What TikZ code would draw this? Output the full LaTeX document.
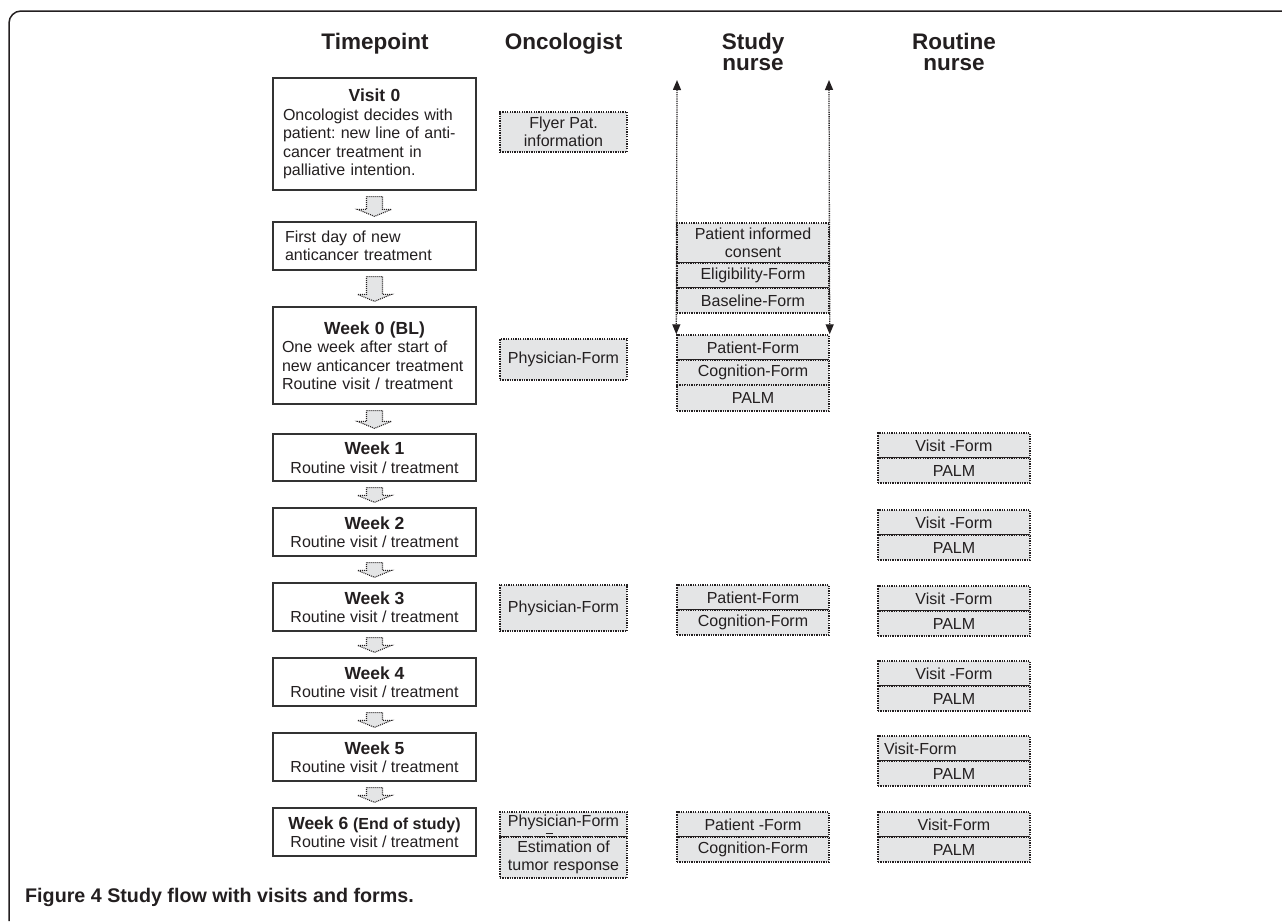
\documentclass[tikz,border=0pt]{standalone}
\usepackage{fontspec}
\setmainfont{Liberation Sans}
\usetikzlibrary{calc,arrows.meta}
\frenchspacing
\hyphenpenalty=10000
\exhyphenpenalty=10000
\definecolor{ink}{HTML}{231F20}
\definecolor{boxline}{HTML}{333333}
\definecolor{formfill}{HTML}{E4E5E6}
\tikzset{
  tpbox/.style={draw=boxline, line width=1.3pt, fill=white, minimum width=203pt, text=ink,
    inner xsep=0pt, inner ysep=2pt, font=\fontsize{16}{18.5}\selectfont},
  form/.style={draw=ink, line width=1.4pt, dash pattern=on 1.3pt off 1.1pt, fill=formfill,
    text=ink, inner sep=0pt, align=center, font=\fontsize{16}{18}\selectfont},
  oncform/.style={form, minimum width=127pt},
  nurseform/.style={form, minimum width=152pt},
  header/.style={text=ink, font=\fontsize{22.5}{21}\selectfont\bfseries, align=center, inner sep=0pt},
  blockarr/.style={draw=ink, fill=formfill, line width=1.1pt, dash pattern=on 1pt off 1pt},
  sidearrow/.style={draw=ink, line width=1.3pt, dash pattern=on 1.2pt off 1pt,
    {Triangle[width=8pt,length=10pt]}-{Triangle[width=8pt,length=10pt]}},
  frameline/.style={draw=ink, line width=1.5pt, rounded corners=12pt},
  straymark/.style={draw=ink, line width=1pt},
}
\newcommand\flowarrow[2]{%
  \path[blockarr] let \p1=(#1.south), \p2=(#2.north) in
    (\x1-8pt,\y1-6pt) -- (\x1+8pt,\y1-6pt) -- (\x1+8pt,\y2+12pt) -- (\x1+17pt,\y2+12pt)
    -- (\x1,\y2+5pt) -- (\x1-17pt,\y2+12pt) -- (\x1-8pt,\y2+12pt) -- cycle;}
\newcommand\wtitle[1]{{\fontsize{17.5}{20}\selectfont\bfseries #1}}
\begin{document}
\begin{tikzpicture}[x=1pt,y=-1pt]
\useasboundingbox (0,0) rectangle (1282,921);

% frame
\draw[frameline] (1284,11) -- (9,11) -- (9,921);

% headers
\node[header] (hT) at (375,44) {Timepoint};
\node[header] (hO) at (563.5,44) {Oncologist};
\node[header] (hS) at (753,52) {Study\\nurse};
\node[header] (hR) at (954,52) {Routine\\nurse};

% timepoint boxes
\node[tpbox, minimum height=112pt, text width=183pt, align=left] (tp0) at (374.5,134)
  {\makebox[183pt][c]{\wtitle{Visit 0}}\\Oncologist decides with\\patient: new line of anti-\\cancer treatment in\\palliative intention.};
\node[tpbox, minimum height=48pt, text width=179pt, align=left] (tp1) at (374.5,246)
  {First day of new\\anticancer treatment};
\node[tpbox, minimum height=97pt, text width=185pt, align=left] (tpw0) at (374.5,355.5)
  {\makebox[185pt][c]{\wtitle{Week 0 (BL)}}\\One week after start of\\new anticancer treatment\\Routine visit / treatment};
\node[tpbox, minimum height=47pt, align=center] (tpw1) at (374.5,457.5) {\wtitle{Week 1}\\Routine visit / treatment};
\node[tpbox, minimum height=48pt, align=center] (tpw2) at (374.5,532) {\wtitle{Week 2}\\Routine visit / treatment};
\node[tpbox, minimum height=48pt, align=center] (tpw3) at (374.5,607) {\wtitle{Week 3}\\Routine visit / treatment};
\node[tpbox, minimum height=48pt, align=center] (tpw4) at (374.5,682) {\wtitle{Week 4}\\Routine visit / treatment};
\node[tpbox, minimum height=48pt, align=center] (tpw5) at (374.5,757) {\wtitle{Week 5}\\Routine visit / treatment};
\node[tpbox, minimum height=48pt, align=center] (tpw6) at (374.5,832)
  {\wtitle{Week 6 {\fontsize{16}{20}\selectfont(End of study)}}\\Routine visit / treatment};

% block arrows
\flowarrow{tp0}{tp1}
\flowarrow{tp1}{tpw0}
\flowarrow{tpw0}{tpw1}
\flowarrow{tpw1}{tpw2}
\flowarrow{tpw2}{tpw3}
\flowarrow{tpw3}{tpw4}
\flowarrow{tpw4}{tpw5}
\flowarrow{tpw5}{tpw6}

% oncologist forms
\node[oncform, minimum height=40pt] (onc0) at (563.5,132) {Flyer Pat.\\information};
\node[oncform, minimum height=41pt] (onc1) at (563.5,359.5) {Physician-Form};
\node[oncform, minimum height=46pt] (onc3) at (563.5,608) {Physician-Form};
\node[oncform, minimum height=25pt] (onc6a) at (563.5,824.5) {\raisebox{2pt}[\height][\depth]{Physician-Form}};
\node[oncform, minimum height=41pt] (onc6b) at (563.5,857.5) {Estimation of\\tumor response};
\draw[straymark] (545.5,833) -- (552.5,833);

% study nurse side arrows
\coordinate (snTL) at (677,80);
\coordinate (snTR) at (829,80);

% study nurse forms
\node[nurseform, minimum height=40pt] (cons) at (753,243) {Patient informed\\consent};
\node[nurseform, minimum height=25pt] (elig) at (753,275.5) {Eligibility-Form};
\node[nurseform, minimum height=25pt] (base) at (753,300.5) {Baseline-Form};
\node[nurseform, minimum height=25pt] (sn0a) at (753,347.5) {Patient-Form};
\node[nurseform, minimum height=25pt] (sn0b) at (753,372.5) {Cognition-Form};
\node[nurseform, minimum height=26pt] (sn0c) at (753,398) {PALM};
\node[nurseform, minimum height=25pt] (sn3a) at (753,597.5) {Patient-Form};
\node[nurseform, minimum height=25pt] (sn3b) at (753,622.5) {Cognition-Form};
\node[nurseform, minimum height=25pt] (sn6a) at (753,824.5) {Patient -Form};
\node[nurseform, minimum height=25pt] (sn6b) at (753,849.5) {Cognition-Form};

\draw[sidearrow] (snTL) -- (sn0a.north west);
\draw[sidearrow] (snTR) -- (sn0a.north east);

% routine nurse forms
\node[nurseform, minimum height=25pt] (rn1a) at (954,445.5) {Visit -Form};
\node[nurseform, minimum height=25pt] (rn1b) at (954,470.5) {PALM};
\node[nurseform, minimum height=25pt] (rn2a) at (954,522.5) {Visit -Form};
\node[nurseform, minimum height=25pt] (rn2b) at (954,547.5) {PALM};
\node[nurseform, minimum height=25pt] (rn3a) at (954,598.5) {Visit -Form};
\node[nurseform, minimum height=25pt] (rn3b) at (954,623.5) {PALM};
\node[nurseform, minimum height=25pt] (rn4a) at (954,673.5) {Visit -Form};
\node[nurseform, minimum height=25pt] (rn4b) at (954,698.5) {PALM};
\node[nurseform, minimum height=25pt, text width=140pt, align=left] (rn5a) at (954,748.5) {Visit-Form};
\node[nurseform, minimum height=25pt] (rn5b) at (954,773.5) {PALM};
\node[nurseform, minimum height=25pt] (rn6a) at (954,824.5) {Visit-Form};
\node[nurseform, minimum height=25pt] (rn6b) at (954,849.5) {PALM};

% caption
\node[anchor=west, inner sep=0pt, text=ink, font=\fontsize{19.7}{22}\selectfont\bfseries] (cap) at (25,897)
  {Figure 4 Study flow with visits and forms.};
\end{tikzpicture}
\end{document}
